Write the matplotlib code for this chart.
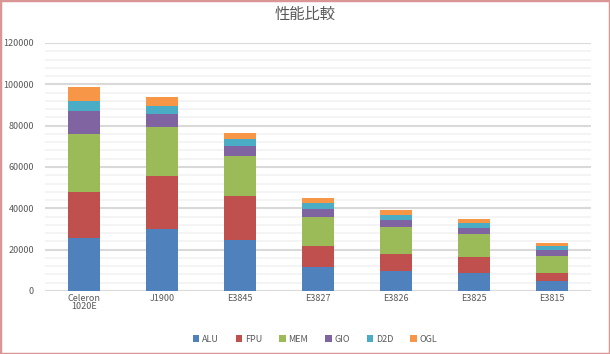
import matplotlib
matplotlib.use("Agg")
import matplotlib.pyplot as plt
from matplotlib.ticker import MultipleLocator
from matplotlib.patches import Rectangle
import numpy as np

plt.rcParams['font.family'] = ['Noto Sans CJK JP', 'DejaVu Sans']

categories = ["Celeron\n1020E", "J1900", "E3845", "E3827", "E3826", "E3825", "E3815"]
series_names = ["ALU", "FPU", "MEM", "GIO", "D2D", "OGL"]
ALU = [25800, 30000, 24800, 11600, 9700, 8700, 4800]
FPU = [22300, 25700, 21100, 10200, 8200, 7800, 3900]
MEM = [27900, 23700, 19400, 14000, 13100, 11100, 8200]
GIO = [11100, 6400, 4800, 3900, 3400, 2900, 2900]
D2D = [4800, 3900, 3400, 2900, 2400, 2400, 1900]
OGL = [6800, 4200, 2900, 2400, 2400, 1900, 1500]
colors = ["#4F81BD", "#C0504D", "#9BBB59", "#8064A2", "#4BACC6", "#F79646"]

W, H = 610, 354
fig = plt.figure(figsize=(W / 100, H / 100), dpi=100)
ax = fig.add_axes([45 / W, 1 - 291 / H, (591 - 45) / W, (291 - 43) / H])

x = np.arange(len(categories))
bottom = np.zeros(len(categories))
for name, vals, c in zip(series_names, [ALU, FPU, MEM, GIO, D2D, OGL], colors):
    ax.bar(x, vals, 0.4, bottom=bottom, color=c, label=name, zorder=3)
    bottom += np.array(vals)

ax.set_xlim(-0.5, len(categories) - 0.5)
ax.set_ylim(0, 120000)
ax.yaxis.set_major_locator(MultipleLocator(20000))
ax.yaxis.set_minor_locator(MultipleLocator(4000))
ax.grid(axis='y', which='minor', color='#F2F2F2', linewidth=1.2, zorder=0)
ax.grid(axis='y', which='major', color='#D9D9D9', linewidth=1.5, zorder=1)
for s in ax.spines.values():
    s.set_visible(False)
ax.tick_params(axis='both', which='both', length=0, labelsize=6.5, labelcolor='#595959')
ax.tick_params(axis='y', pad=8)
ax.tick_params(axis='x', pad=2)
ax.set_xticks(x)
ax.set_xticklabels(categories, linespacing=0.9)
ax.set_yticks(np.arange(0, 120001, 20000))
ax.set_yticklabels([str(v) for v in range(0, 120001, 20000)])

fig.text(305 / W, 1 - 14 / H, "性能比較", ha='center', va='center', fontsize=11, color='#595959')

leg = fig.legend(loc='center', bbox_to_anchor=(315 / W, 1 - 339 / H), ncol=6, frameon=False,
                 fontsize=6.5, handlelength=0.7, handleheight=0.7, handletextpad=0.3,
                 columnspacing=1.9, labelcolor='#595959')

fig.patches.append(Rectangle((0, 0), 1, 1, transform=fig.transFigure, fill=False,
                             edgecolor='#D99694', linewidth=2.5, zorder=10))

fig.savefig("out.png", dpi=100)
